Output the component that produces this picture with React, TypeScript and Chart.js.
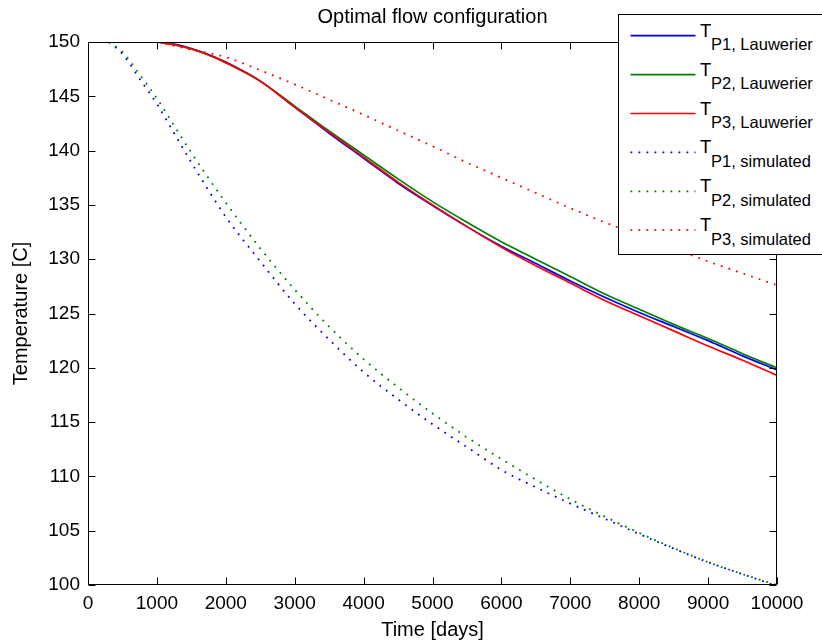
import React, { useEffect, useRef } from "react";
import { Chart, registerables } from "chart.js";

Chart.register(...registerables);

// ---- data ----
const lauwerierTimes = [1000, 1250, 1500, 1750, 2000, 2500, 3000, 3500, 4000, 4500, 5000, 5500, 6000, 6500, 7000, 7500, 8000, 8500, 9000, 9500, 10000];
const tP1Lauwerier = [150, 149.8, 149.4, 148.85, 148.15, 146.4, 144.0, 141.6, 139.3, 137.0, 134.95, 133.0, 131.2, 129.6, 128.0, 126.5, 125.1, 123.8, 122.5, 121.1, 119.8];
const tP2Lauwerier = [150, 149.75, 149.35, 148.8, 148.1, 146.4, 144.1, 141.8, 139.6, 137.4, 135.3, 133.4, 131.6, 130.0, 128.4, 126.8, 125.4, 124.0, 122.7, 121.3, 120.0];
const tP3Lauwerier = [150, 149.75, 149.35, 148.8, 148.1, 146.4, 144.0, 141.7, 139.4, 137.1, 135.0, 133.0, 131.1, 129.4, 127.8, 126.2, 124.8, 123.4, 122.0, 120.7, 119.3];

const simTimes = [300, 500, 750, 1000, 1250, 1500, 2000, 2500, 3000, 3500, 4000, 4500, 5000, 5500, 6000, 6500, 7000, 7500, 8000, 8500, 9000, 9500, 10000];
const tP1Simulated = [150, 148.9, 146.6, 144.3, 141.6, 138.9, 133.9, 129.8, 125.9, 122.6, 119.6, 117.1, 114.8, 112.7, 110.6, 109.0, 107.5, 106.1, 104.7, 103.35, 102.1, 101.0, 99.9];
const tP2Simulated = [150, 149.1, 147.0, 144.8, 142.3, 139.8, 135.2, 131.0, 127.2, 123.8, 120.8, 118.2, 115.8, 113.6, 111.6, 109.7, 107.9, 106.3, 104.8, 103.4, 102.1, 101.0, 100.0];

const p3SimTimes = [1000, 1500, 2000, 2500, 3000, 3500, 4000, 4500, 5000, 5500, 6000, 6500, 7000, 7500, 8000, 8500, 9000, 9500, 10000];
const tP3Simulated = [150, 149.3, 148.6, 147.4, 146.1, 144.7, 143.3, 141.85, 140.4, 138.9, 137.5, 136.1, 134.7, 133.4, 132.2, 131.0, 129.8, 128.7, 127.6];

const seriesNames = [
  ["P1, Lauwerier", "P2, Lauwerier", "P3, Lauwerier"],
  ["P1, simulated", "P2, simulated", "P3, simulated"],
];
const colors = ["#0000ff", "#008000", "#ff0000"];

const titleText = "Optimal flow configuration";
const xTitle = "Time [days]";
const yTitle = "Temperature [C]";

const FONT = "'Liberation Sans', Arial, Helvetica, sans-serif";

const toPts = (xs: number[], ys: number[]) => xs.map((x, i) => ({ x, y: ys[i] }));

const boxPlugin = {
  id: "matlabBox",
  afterDatasetsDraw(chart: any) {
    const { ctx, chartArea: a, scales } = chart;
    const xs = scales.x;
    const ys = scales.y;
    const L = Math.round(a.left) + 0.5;
    const R = Math.round(a.right) - 0.5;
    const T = Math.round(a.top) + 0.5;
    const B = Math.round(a.bottom) - 0.5;
    const len = 7;
    ctx.save();
    ctx.strokeStyle = "#000";
    ctx.lineWidth = 1;
    ctx.beginPath();
    ctx.rect(L, T, R - L, B - T);
    xs.ticks.forEach((t: any) => {
      const px = Math.round(xs.getPixelForValue(t.value)) + 0.5;
      ctx.moveTo(px, B);
      ctx.lineTo(px, B - len);
      ctx.moveTo(px, T);
      ctx.lineTo(px, T + len);
    });
    ys.ticks.forEach((t: any) => {
      const py = Math.round(ys.getPixelForValue(t.value)) + 0.5;
      ctx.moveTo(L, py);
      ctx.lineTo(L + len, py);
      ctx.moveTo(R, py);
      ctx.lineTo(R - len, py);
    });
    ctx.stroke();
    ctx.restore();
  },
};

function Legend() {
  const rows = [...seriesNames[0], ...seriesNames[1]];
  return (
    <svg
      width={204}
      height={242}
      style={{ position: "absolute", left: 618, top: 14, overflow: "visible" }}
    >
      <rect x={0.5} y={0.5} width={220} height={240} fill="#fff" stroke="#000" strokeWidth={1} />
      {rows.map((name, i) => {
        const cy = 21.7 + i * 38.9;
        const dotted = i >= 3;
        return (
          <g key={name}>
            <line
              x1={12.5}
              x2={77.5}
              y1={cy}
              y2={cy}
              stroke={colors[i % 3]}
              strokeWidth={dotted ? 1.8 : 1.7}
              strokeDasharray={dotted ? "1.8 6.2" : undefined}
            />
            <text x={82} y={cy + 1} fontFamily={FONT} fontSize={18.5} fill="#000">
              T
            </text>
            <text x={93} y={cy + 14.3} fontFamily={FONT} fontSize={16.5} fill="#000">
              {name}
            </text>
          </g>
        );
      })}
    </svg>
  );
}

export default function App() {
  const ref = useRef<HTMLCanvasElement>(null);

  useEffect(() => {
    if (!ref.current) return;
    const solid = [tP1Lauwerier, tP2Lauwerier, tP3Lauwerier].map((ys, i) => ({
      label: "T " + seriesNames[0][i],
      data: toPts(lauwerierTimes, ys),
      borderColor: colors[i],
      borderWidth: 1.7,
      pointRadius: 0,
      cubicInterpolationMode: "monotone" as const,
      order: 6 - i,
    }));
    const simX = [simTimes, simTimes, p3SimTimes];
    const dotted = [tP1Simulated, tP2Simulated, tP3Simulated].map((ys, i) => ({
      label: "T " + seriesNames[1][i],
      data: toPts(simX[i], ys),
      borderColor: colors[i],
      borderWidth: 1.8,
      borderDash: [1.8, 6.2],
      borderCapStyle: "butt" as const,
      pointRadius: 0,
      cubicInterpolationMode: "monotone" as const,
      order: 3 - i,
    }));

    const chart = new Chart(ref.current, {
      type: "line",
      data: { datasets: [...solid, ...dotted] as any },
      plugins: [boxPlugin],
      options: {
        animation: false,
        responsive: false,
        layout: { padding: { left: 0, right: 45, top: 0, bottom: 0 } },
        plugins: {
          legend: { display: false },
          tooltip: { enabled: false },
          title: {
            display: true,
            text: titleText,
            fullSize: false,
            color: "#000",
            font: { family: FONT, size: 20, weight: "normal" },
            padding: { top: 5, bottom: 13 },
          },
        },
        scales: {
          x: {
            type: "linear",
            min: 0,
            max: 10000,
            ticks: {
              stepSize: 1000,
              color: "#000",
              font: { family: FONT, size: 19 },
              padding: 7,
              maxRotation: 0,
              autoSkip: false,
              callback: (v: any) => String(v),
            },
            grid: { display: false, drawTicks: false },
            border: { display: false },
            title: {
              display: true,
              text: xTitle,
              color: "#000",
              font: { family: FONT, size: 20 },
              padding: { top: 4, bottom: 0 },
            },
            afterFit: (s: any) => {
              s.height = 57;
            },
          },
          y: {
            type: "linear",
            min: 100,
            max: 150,
            ticks: {
              stepSize: 5,
              color: "#000",
              font: { family: FONT, size: 19 },
              padding: 8,
            },
            grid: { display: false, drawTicks: false },
            border: { display: false },
            title: {
              display: true,
              text: yTitle,
              color: "#000",
              font: { family: FONT, size: 20 },
              padding: { top: 9, bottom: 0 },
            },
            afterFit: (s: any) => {
              s.width = 88;
            },
          },
        },
      },
    });
    return () => chart.destroy();
  }, []);

  return (
    <div
      style={{
        position: "fixed",
        left: 0,
        top: 0,
        width: 822,
        height: 642,
        overflow: "hidden",
        background: "#fff",
      }}
    >
      <canvas ref={ref} width={822} height={642} style={{ display: "block" }} />
      <Legend />
    </div>
  );
}
